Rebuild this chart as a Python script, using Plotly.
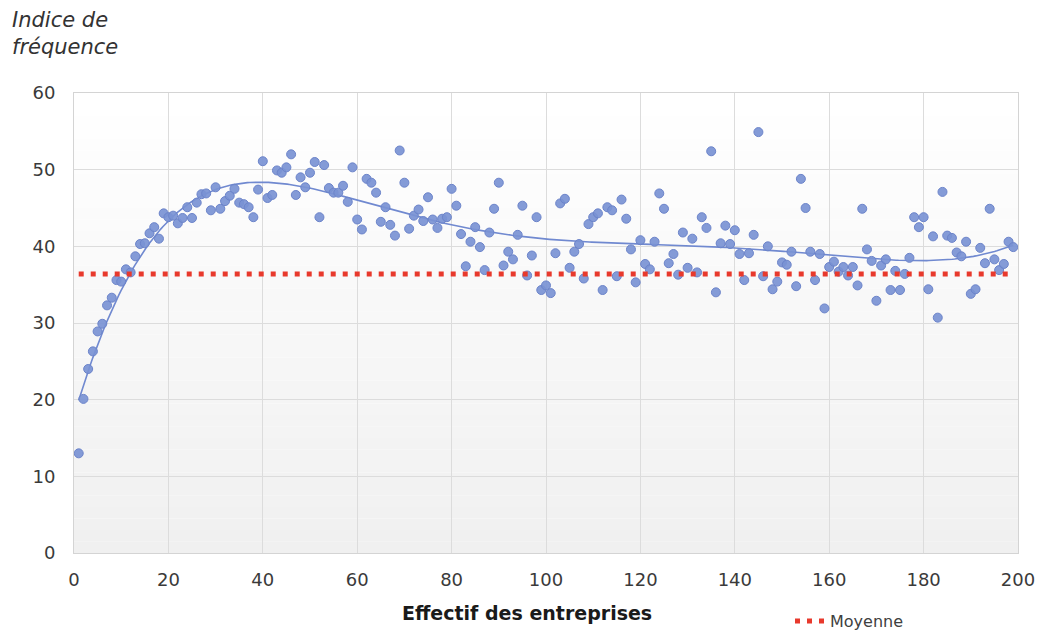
import numpy as np
import plotly.graph_objects as go

# ---- data ----
effectif = list(range(1, 200))
indice = [
    13.0, 20.1, 24.0, 26.3, 28.9, 29.9, 32.3, 33.3, 35.6, 35.4,
    37.0, 36.6, 38.7, 40.3, 40.4, 41.7, 42.5, 41.0, 44.3, 43.8,
    44.0, 43.0, 43.7, 45.1, 43.7, 45.7, 46.8, 46.9, 44.7, 47.7,
    44.9, 45.9, 46.6, 47.5, 45.7, 45.5, 45.1, 43.8, 47.4, 51.1,
    46.3, 46.7, 49.9, 49.6, 50.3, 52.0, 46.7, 49.0, 47.7, 49.6,
    51.0, 43.8, 50.6, 47.6, 47.0, 47.0, 47.9, 45.8, 50.3, 43.5,
    42.2, 48.8, 48.3, 47.0, 43.2, 45.1, 42.8, 41.4, 52.5, 48.3,
    42.3, 44.0, 44.8, 43.3, 46.4, 43.5, 42.4, 43.6, 43.8, 47.5,
    45.3, 41.6, 37.4, 40.6, 42.5, 39.9, 36.9, 41.8, 44.9, 48.3,
    37.5, 39.3, 38.3, 41.5, 45.3, 36.2, 38.8, 43.8, 34.3, 34.9,
    33.9, 39.1, 45.6, 46.2, 37.2, 39.3, 40.3, 35.8, 42.9, 43.8,
    44.3, 34.3, 45.1, 44.7, 36.1, 46.1, 43.6, 39.6, 35.3, 40.8,
    37.7, 37.0, 40.6, 46.9, 44.9, 37.8, 39.0, 36.3, 41.8, 37.2,
    41.0, 36.6, 43.8, 42.4, 52.4, 34.0, 40.4, 42.7, 40.3, 42.1,
    39.0, 35.6, 39.1, 41.5, 54.9, 36.1, 40.0, 34.4, 35.4, 37.9,
    37.6, 39.3, 34.8, 48.8, 45.0, 39.3, 35.6, 39.0, 31.9, 37.3,
    38.0, 36.7, 37.3, 36.2, 37.3, 34.9, 44.9, 39.6, 38.1, 32.9,
    37.5, 38.3, 34.3, 36.8, 34.3, 36.4, 38.5, 43.8, 42.5, 43.8,
    34.4, 41.3, 30.7, 47.1, 41.4, 41.1, 39.2, 38.7, 40.6, 33.8,
    34.4, 39.8, 37.8, 44.9, 38.3, 36.9, 37.7, 40.6, 39.9,
]
moyenne_val = 36.4
x_ticks = [0, 20, 40, 60, 80, 100, 120, 140, 160, 180, 200]
y_ticks = [0, 10, 20, 30, 40, 50, 60]

# polynomial trendline (order 6) computed from data
xa = np.array(effectif, dtype=float)
ya = np.array(indice, dtype=float)
poly = np.polynomial.Polynomial.fit(xa, ya, 6)
xs = np.linspace(xa.min(), xa.max(), 400)
ys = poly(xs)

W, H = 1040, 635
L, R, T, B = 74, 22, 93, 82
pw, ph = W - L - R, H - T - B

def px2x(p):
    return (p - L) / pw

def py2y(p):
    return (H - B - p) / ph

fig = go.Figure()

fig.add_trace(go.Scatter(
    x=xs, y=ys, mode="lines",
    line=dict(color="#7089D0", width=1.6),
    showlegend=False, hoverinfo="skip",
))
fig.add_trace(go.Scatter(
    x=effectif, y=indice, mode="markers",
    marker=dict(size=9, color="rgba(122,146,212,0.92)",
                line=dict(color="#6C84CA", width=1)),
    showlegend=False, name="Indice",
))
fig.add_trace(go.Scatter(
    x=effectif, y=[moyenne_val] * len(effectif), mode="lines",
    line=dict(color="#E8392C", width=5, dash="5px,7px"),
    name="Moyenne", showlegend=True,
))

# gradient plot background (white at top -> light grey at bottom)
shapes = []
nb = 40
for i in range(nb):
    t = i / (nb - 1)
    c = int(round(240 + (255 - 240) * t))
    shapes.append(dict(
        type="rect", xref="x domain", yref="y domain",
        x0=0, x1=1, y0=i / nb, y1=(i + 1) / nb,
        fillcolor=f"rgb({c},{c},{c})", line=dict(width=0), layer="below",
    ))

font_fam = "DejaVu Sans, Verdana, sans-serif"

fig.update_layout(
    width=W, height=H,
    margin=dict(l=L, r=R, t=T, b=B, autoexpand=False),
    paper_bgcolor="white", plot_bgcolor="white",
    shapes=shapes,
    font=dict(family=font_fam, color="#3A3A3A", size=18),
    xaxis=dict(
        range=[0, 200], tickvals=x_ticks, ticktext=[str(v) for v in x_ticks],
        showgrid=True, gridcolor="#DCDCDC", gridwidth=1,
        zeroline=False, showline=True, linecolor="#D4D4D4", linewidth=1, mirror=True,
        ticks="", ticklabelstandoff=10, automargin=False,
        tickfont=dict(size=18, color="#3A3A3A"),
    ),
    yaxis=dict(
        range=[0, 60], tickvals=y_ticks, ticktext=[str(v) for v in y_ticks],
        showgrid=True, gridcolor="#DCDCDC", gridwidth=1,
        zeroline=False, showline=True, linecolor="#D4D4D4", linewidth=1, mirror=True,
        ticks="", ticklabelstandoff=14, automargin=False,
        tickfont=dict(size=18, color="#3A3A3A"),
    ),
    legend=dict(
        x=px2x(790), y=py2y(621), xanchor="left", yanchor="middle",
        orientation="h", bgcolor="rgba(0,0,0,0)",
        font=dict(size=16, color="#404040", family=font_fam),
        itemwidth=30,
    ),
    annotations=[
        dict(text="<i>Indice de<br>fréquence</i>", xref="paper", yref="paper",
             x=px2x(10), y=py2y(6), xanchor="left", yanchor="top",
             showarrow=False, align="left",
             font=dict(size=21, color="#333333", family=font_fam)),
        dict(text="<b>Effectif des entreprises</b>", xref="paper", yref="paper",
             x=px2x(527), y=py2y(613), xanchor="center", yanchor="middle",
             showarrow=False,
             font=dict(size=19, color="#1a1a1a", family=font_fam)),
    ],
)

fig.write_html("out.html")
